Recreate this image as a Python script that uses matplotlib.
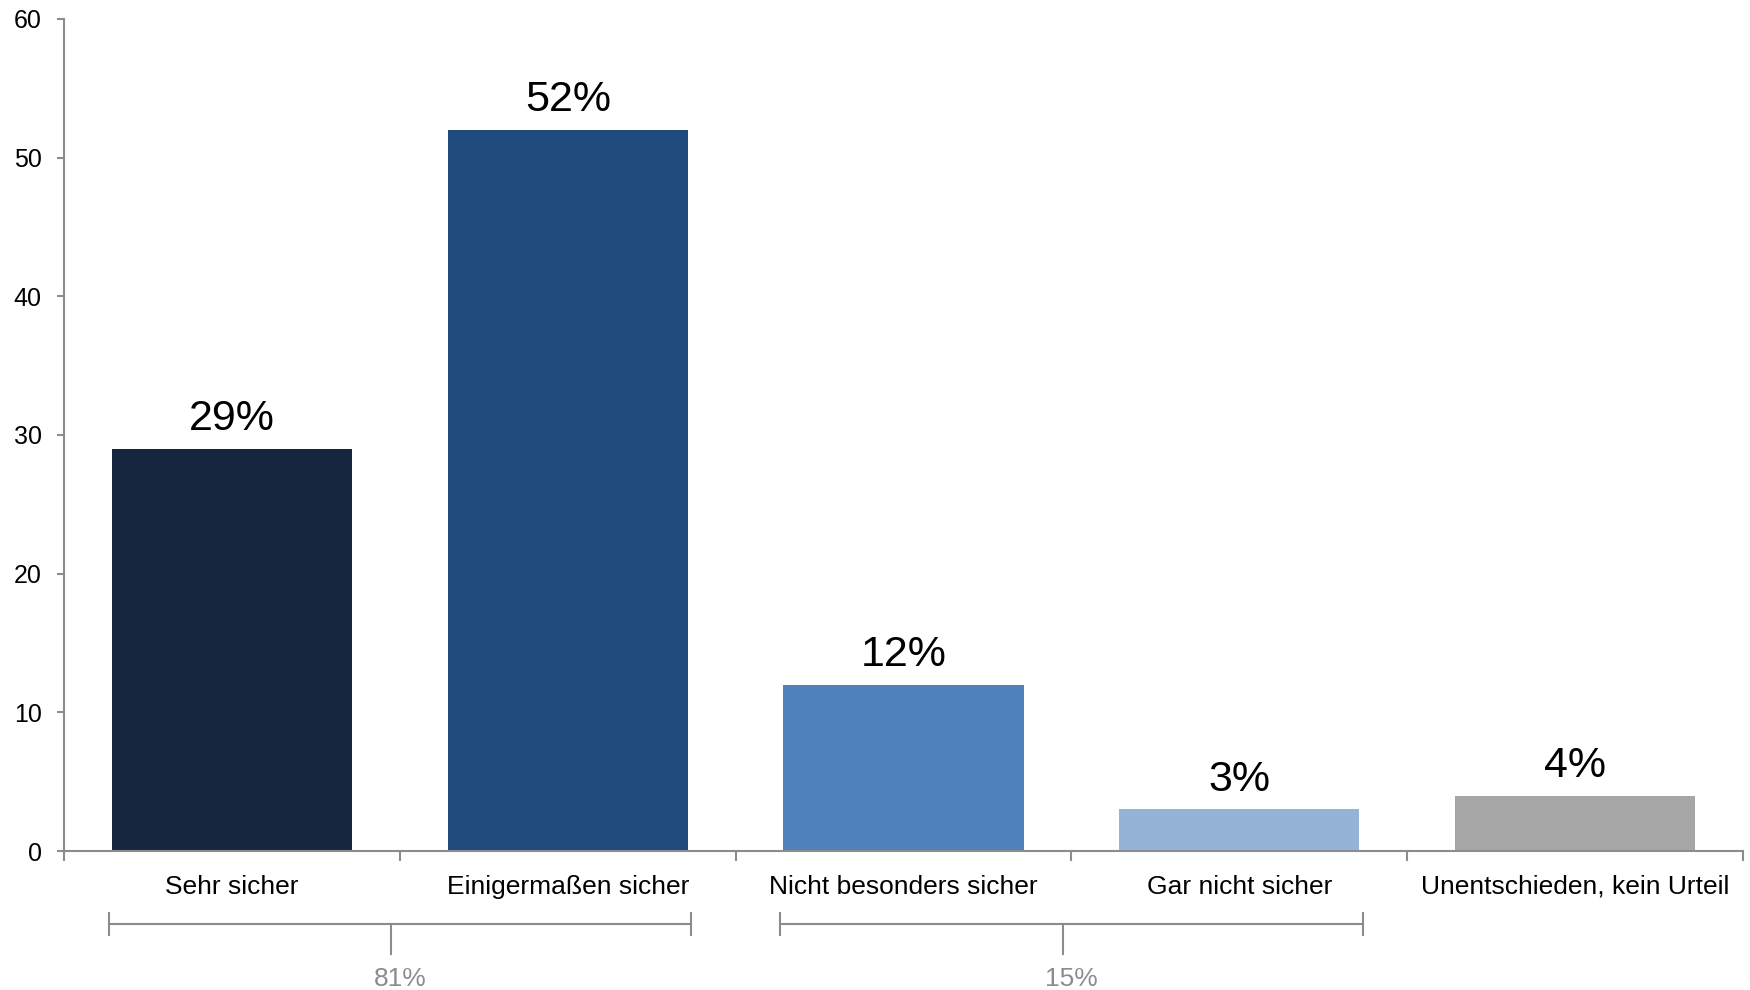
import matplotlib
matplotlib.use('Agg')
import matplotlib.pyplot as plt
import numpy as np

plt.rcParams['font.family'] = ['Liberation Sans', 'DejaVu Sans']

# data
categories = ['Sehr sicher', 'Einigermaßen sicher', 'Nicht besonders sicher',
              'Gar nicht sicher', 'Unentschieden, kein Urteil']
values = [29, 52, 12, 3, 4]
value_labels = ['29%', '52%', '12%', '3%', '4%']
colors = ['#14273F', '#214A7D', '#4F81BD', '#95B3D7', '#A6A6A6']

# summary brackets: (first category, last category, label)
group_first = [0, 2]
group_last = [1, 3]
group_labels = ['81%', '15%']

axis_gray = '#8C8C8C'
bar_width = 0.715

fig = plt.figure(figsize=(17.5, 9.9), dpi=100)
ax = fig.add_axes([0.0366, 0.1404, 0.9594, 0.8406])

x = np.arange(len(categories))
bars = ax.bar(x, values, bar_width, color=colors)
ax.bar_label(bars, labels=value_labels, padding=7, fontsize=31)

ax.set_xlim(-0.5, len(categories) - 0.5)
ax.set_ylim(0, 60)
ax.set_yticks(np.arange(0, 61, 10))

for side in ['top', 'right']:
    ax.spines[side].set_visible(False)
for side in ['left', 'bottom']:
    ax.spines[side].set_color(axis_gray)
    ax.spines[side].set_linewidth(1.5)

ax.tick_params(axis='y', length=5, width=1.5, color=axis_gray, pad=11,
               labelsize=18)
ax.set_xticks(x)
ax.set_xticklabels(categories, fontsize=19)
ax.tick_params(axis='x', which='major', length=0, pad=17)
ax.set_xticks(np.arange(-0.5, len(categories), 1.0), minor=True)
ax.tick_params(axis='x', which='minor', length=7, width=1.5, color=axis_gray)

# brackets under the axis, a little wider than the bars they span
trans = ax.get_xaxis_transform()
for first, last, lab in zip(group_first, group_last, group_labels):
    left = first - bar_width / 2 - 0.01
    right = last + bar_width / 2 + 0.01
    mid = (left + right) / 2
    kw = dict(transform=trans, clip_on=False, color=axis_gray, lw=1.5)
    ax.plot([left, right], [-0.0877, -0.0877], **kw)
    ax.plot([left, left], [-0.0745, -0.1010], **kw)
    ax.plot([right, right], [-0.0745, -0.1010], **kw)
    ax.plot([mid - 0.025, mid - 0.025], [-0.0877, -0.1238], **kw)
    ax.text(mid, -0.154, lab, transform=trans, ha='center', va='center',
            fontsize=19, color='#8C8C8C')

fig.savefig('out.png', dpi=100)
